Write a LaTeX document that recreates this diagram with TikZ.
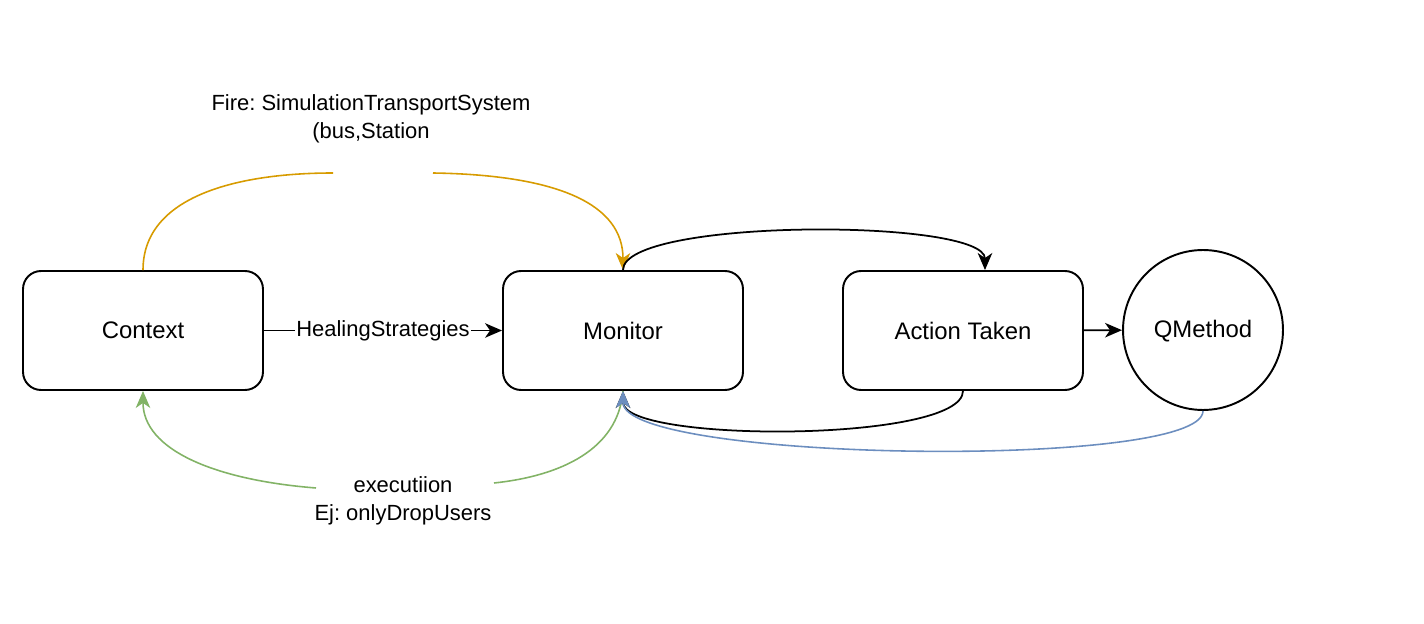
\documentclass[tikz,border=0pt]{standalone}
\usepackage{fontspec}
\setmainfont{Liberation Sans}
\usetikzlibrary{arrows.meta, calc}
\definecolor{fireorange}{HTML}{D79B00}
\definecolor{execgreen}{HTML}{82B366}
\definecolor{qblue}{HTML}{6C8EBF}
\tikzset{
    box/.style={draw, line width=1.1pt, rounded corners=0.36cm, minimum width=4.8cm, minimum height=2.38cm, font=\fontsize{13.6}{16}\selectfont},
    roundnode/.style={draw, line width=1.1pt, circle, minimum size=3.2cm, inner sep=0pt, text depth=0.1em, font=\fontsize{13.6}{16}\selectfont},
    flow/.style={line width=1pt, -{Stealth[length=3.4mm, width=2.9mm, inset=1mm]}},
    lbl/.style={font=\fontsize{12.5}{16}\selectfont, align=center}
}
\begin{document}
\frenchspacing
\begin{tikzpicture}[x=0.02cm, y=-0.02cm, font=\fontsize{12.5}{16}\selectfont]
        \useasboundingbox (0,0) rectangle (1424,624);
        \begin{scope}
            \node[box] (ctx) at (143,330.5) {Context};
            \node[box] (mon) at (623,330.5) {Monitor};
            \node[box] (act) at (963,330.5) {Action Taken};
            \node[roundnode] (qm) at (1203,330) {QMethod};
        \end{scope}
        % labels away from the curves
        \node[lbl] (firelbl) at (371,119) {Fire: SimulationTransportSystem\\(bus,Station};
        \node[lbl] (execlbl) at (403,501) {executiion\\Ej: onlyDropUsers};
        % gap ends of the curves
        \coordinate (fireA) at (333,173);
        \coordinate (fireB) at (433,173);
        \coordinate (execA) at (494,483);
        \coordinate (execB) at (316,488);
        \coordinate (acttop) at ($(act.north)+(22,0)$);
        % straight edges
        \draw[flow] (ctx) -- node[fill=white, inner sep=1pt] (heal) {HealingStrategies} (mon);
        \draw[flow] (act) -- (qm);
        % top curves
        \draw[line width=0.9pt, fireorange] (ctx.north) .. controls (143,195) and (240,173) .. (fireA);
        \draw[flow, line width=0.9pt, fireorange] (fireB) .. controls (560,175) and (623,205) .. (mon.north);
        \draw[flow] (mon.north) .. controls (623,218) and (985,218) .. (acttop);
        % bottom curves
        \draw[flow] (act.south) .. controls (963,443) and (623,443) .. (mon.south);
        \draw[line width=0.9pt, execgreen] (mon.south) .. controls (618,450) and (560,476) .. (execA);
        \draw[flow, line width=0.9pt, execgreen] (execB) .. controls (215,480) and (143,450) .. (ctx.south);
        \draw[flow, line width=0.9pt, qblue] (qm.south) .. controls (1203,470) and (623,462) .. (mon.south);
\end{tikzpicture}
\end{document}
